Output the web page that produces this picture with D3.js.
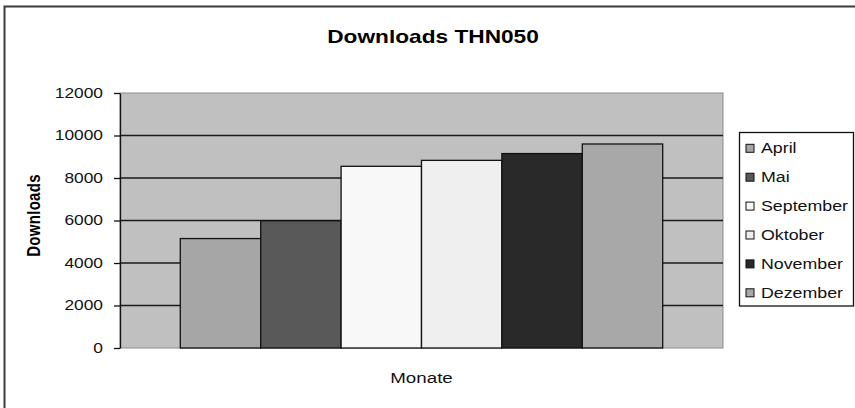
<!DOCTYPE html>
<html>
<head>
<meta charset="utf-8">
<script src="https://cdn.jsdelivr.net/npm/d3@7"></script>
<style>
  body { margin: 0; background: #ffffff; }
  svg { display: block; font-family: "Liberation Sans", Arial, sans-serif; }
</style>
</head>
<body>
<div id="chart"></div>
<script>
// Daten
const months = ["April", "Mai", "September", "Oktober", "November", "Dezember"];
const downloads = [5150, 5985, 8550, 8830, 9150, 9600];
const barColors = ["#a6a6a6", "#595959", "#f8f8f8", "#efefef", "#292929", "#a8a8a8"];
const yTicks = [0, 2000, 4000, 6000, 8000, 10000, 12000];

const W = 855, H = 408;
const plot = { left: 120, top: 93, right: 723, bottom: 348 };
const STRETCH = 1.25; // Vorlage ist horizontal gestreckt

const svg = d3.select("#chart").append("svg")
    .attr("width", W)
    .attr("height", H);

// Text breiter ziehen, Ankerpunkt bleibt gleich
const stretchText = (sel, k, x, y) => {
    sel.attr("x", 0).attr("y", 0)
       .attr("transform", `translate(${x},${y}) scale(${k},1)`);
};

// äußerer Rahmen
svg.append("rect")
    .attr("x", 4.5).attr("y", 6.5)
    .attr("width", W + 10).attr("height", H + 10)
    .attr("fill", "#fff")
    .attr("stroke", "#3c3c3c")
    .attr("stroke-width", 2);

// Skalen
const y = d3.scaleLinear().domain([0, 12000]).range([plot.bottom, plot.top]);
const x = d3.scaleBand().domain(months)
    .range([plot.left, plot.right])
    .paddingInner(0)
    .paddingOuter(0.75);

// Plotfläche
svg.append("rect")
    .attr("x", plot.left).attr("y", plot.top)
    .attr("width", plot.right - plot.left)
    .attr("height", plot.bottom - plot.top)
    .attr("fill", "#c0c0c0")
    .attr("stroke", "#8c8c8c")
    .attr("stroke-width", 1);

// Gitterlinien
svg.append("g")
    .selectAll("line")
    .data(yTicks.filter(t => t > 0 && t < 12000))
    .join("line")
    .attr("x1", plot.left).attr("x2", plot.right)
    .attr("y1", d => y(d)).attr("y2", d => y(d))
    .attr("stroke", "#1a1a1a")
    .attr("stroke-width", 1.3);

// Balken
svg.append("g")
    .selectAll("rect")
    .data(months)
    .join("rect")
    .attr("x", d => x(d))
    .attr("y", (d, i) => y(downloads[i]))
    .attr("width", x.bandwidth())
    .attr("height", (d, i) => y(0) - y(downloads[i]))
    .attr("fill", (d, i) => barColors[i])
    .attr("stroke", "#111")
    .attr("stroke-width", 1.3);

// y-Achse
const yAxis = svg.append("g")
    .attr("transform", `translate(${plot.left},0)`)
    .call(d3.axisLeft(y).tickValues(yTicks).tickFormat(d3.format("d"))
        .tickSize(6).tickPadding(11).tickSizeOuter(0));
yAxis.select(".domain").attr("stroke", "#111").attr("stroke-width", 1.3);
yAxis.selectAll(".tick line").attr("stroke", "#111").attr("stroke-width", 1.3);
yAxis.selectAll(".tick text")
    .attr("fill", "#111")
    .attr("x", -17 / 1.24)
    .attr("transform", "scale(1.24,1)")
    .style("font-size", "14px")
    .style("font-family", "'Liberation Sans', Arial, sans-serif");

// Titel
svg.append("text")
    .attr("text-anchor", "middle")
    .attr("font-size", "18px")
    .attr("font-weight", "bold")
    .attr("fill", "#000")
    .text("Downloads THN050")
    .call(stretchText, 1.26, 433, 43);

// Achsentitel
svg.append("text")
    .attr("transform", `translate(40,${(plot.top + plot.bottom) / 2 - 5}) rotate(-90) scale(1,${STRETCH})`)
    .attr("text-anchor", "middle")
    .attr("font-size", "15px")
    .attr("font-weight", "bold")
    .attr("letter-spacing", "0.3px")
    .attr("fill", "#000")
    .text("Downloads");

svg.append("text")
    .attr("text-anchor", "middle")
    .attr("font-size", "15px")
    .attr("fill", "#111")
    .text("Monate")
    .call(stretchText, STRETCH, (plot.left + plot.right) / 2, 383);

// Legende
const legend = svg.append("g");
legend.append("rect")
    .attr("x", 739.5).attr("y", 132.5)
    .attr("width", 114).attr("height", 173.5)
    .attr("fill", "#fff")
    .attr("stroke", "#111")
    .attr("stroke-width", 1.3);

const item = legend.selectAll("g.item")
    .data(months)
    .join("g")
    .attr("class", "item")
    .attr("transform", (d, i) => `translate(746,${148.3 + i * 28.9})`);

item.append("rect")
    .attr("x", 0).attr("y", -4)
    .attr("width", 8).attr("height", 8)
    .attr("fill", (d, i) => barColors[i])
    .attr("stroke", "#111")
    .attr("stroke-width", 1);

item.append("text")
    .attr("dy", "0.36em")
    .attr("font-size", "14px")
    .attr("fill", "#111")
    .text(d => d)
    .call(stretchText, 1.27, 15, 0);
</script>
</body>
</html>
